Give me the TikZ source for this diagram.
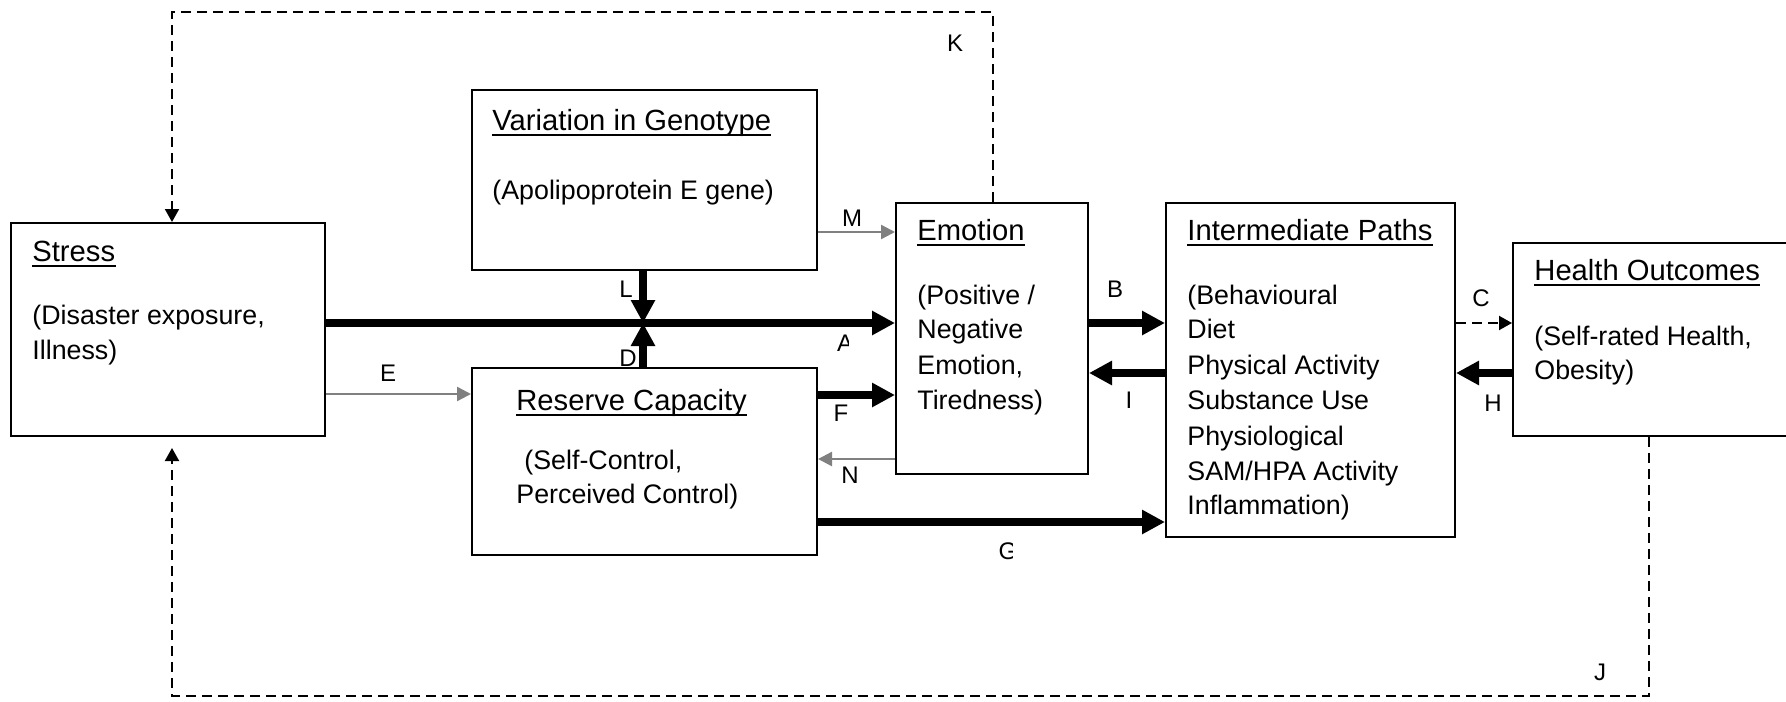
\documentclass[tikz,border=0pt]{standalone}
\usepackage{fontspec}
\setmainfont{Liberation Sans}
\usetikzlibrary{arrows.meta,fit}
\definecolor{arrgray}{RGB}{128,128,128}
\begin{document}
\begin{tikzpicture}[x=0.5pt,y=-0.5pt,
  box/.style={draw=black, line width=1pt, inner sep=0pt, fill=white},
  txt/.style={anchor=base west, inner sep=0pt, font=\fontsize{14.6}{17.5}\selectfont},
  txtc/.style={anchor=base west, inner sep=0pt, font=\fontsize{13.4}{17.5}\selectfont},
  lbl/.style={inner sep=0pt, font=\fontsize{12}{14}\selectfont},
  thickarr/.style={draw=black, line width=4pt, -{Triangle[length=11.5pt,width=11.5pt]}},
  grayarr/.style={draw=arrgray, line width=1.2pt, -{Triangle[length=7pt,width=7pt]}},
  dasharr/.style={draw=black, line width=1pt, dash pattern=on 5pt off 3pt, -{Triangle[length=6.5pt,width=7pt]}},
  ulinestyle/.style={draw=black, line width=1pt}
]
\useasboundingbox (0,0) rectangle (1786,701);
\clip (0,0) rectangle (1786,701);
% box corners
\coordinate (s1) at (11,223);   \coordinate (s2) at (325,436);
\coordinate (g1) at (472,90);   \coordinate (g2) at (817,270);
\coordinate (r1) at (472,368);  \coordinate (r2) at (817,555);
\coordinate (e1) at (896,203);  \coordinate (e2) at (1088,474);
\coordinate (i1) at (1166,203); \coordinate (i2) at (1455,537);
\coordinate (h1) at (1513,243); \coordinate (h2) at (1820,436);
\node[box, fit=(s1)(s2)] (stress) {};
\node[box, fit=(g1)(g2)] (genotype) {};
\node[box, fit=(r1)(r2)] (reserve) {};
\node[box, fit=(e1)(e2)] (emotion) {};
\node[box, fit=(i1)(i2)] (inter) {};
\node[box, fit=(h1)(h2)] (health) {};
% levels
\coordinate (yA) at (0,323);
\coordinate (yE) at (0,394);
\coordinate (yM) at (0,232);
\coordinate (yF) at (0,395);
\coordinate (yN) at (0,459);
\coordinate (yG) at (0,522);
\coordinate (yI) at (0,373);
\coordinate (LA) at (643,323);
\coordinate (Ktop) at (993,12);
\coordinate (Kleft) at (172,12);
\coordinate (Jbot) at (1649,696);
\coordinate (Jleft) at (172,696);
\coordinate (Jend) at (172,448);
% connectors
\draw[thickarr] (stress.east |- yA) -- (emotion.west |- yA);
\draw[thickarr] (genotype.south -| LA) -- (LA);
\draw[thickarr] (reserve.north -| LA) -- (LA);
\draw[grayarr] (stress.east |- yE) -- (reserve.west |- yE);
\draw[grayarr] (genotype.east |- yM) -- (emotion.west |- yM);
\draw[thickarr] (reserve.east |- yF) -- (emotion.west |- yF);
\draw[grayarr] (emotion.west |- yN) -- (reserve.east |- yN);
\draw[thickarr] (reserve.east |- yG) -- (inter.west |- yG);
\draw[thickarr] (emotion.east |- yA) -- (inter.west |- yA);
\draw[thickarr] (inter.west |- yI) -- (emotion.east |- yI);
\draw[dasharr] (inter.east |- yA) -- (health.west |- yA);
\draw[thickarr] (health.west |- yI) -- (inter.east |- yI);
\draw[dasharr] (emotion.north -| Ktop) -- (Ktop) -- (Kleft) -- (stress.north -| Kleft);
\draw[dasharr] (health.south -| Jbot) -- (Jbot) -- (Jleft) -- (Jend);
% texts
\node[txt] (tS1) at (32,261) {Stress};
\node[txtc] (tS2) at (32,324) {(Disaster exposure,};
\node[txtc] (tS3) at (32,359) {Illness)};
\node[txt] (tG1) at (492,130) {Variation in Genotype};
\node[txtc] (tG2) at (492,199) {(Apolipoprotein E gene)};
\node[txt] (tR1) at (516,410) {Reserve Capacity};
\node[txtc] (tR2) at (524,469) {(Self-Control,};
\node[txtc] (tR3) at (516,503) {Perceived Control)};
\node[txt] (tE1) at (917,240) {Emotion};
\node[txtc] (tE2) at (917,304) {(Positive /};
\node[txtc] (tE3) at (917,338.5) {Negative};
\node[txtc] (tE4) at (917,374) {Emotion,};
\node[txtc] (tE5) at (917,409) {Tiredness)};
\node[txt] (tI1) at (1187,240) {Intermediate Paths};
\node[txtc] (tI2) at (1187,304) {(Behavioural};
\node[txtc] (tI3) at (1187,338.5) {Diet};
\node[txtc] (tI4) at (1187,374) {Physical Activity};
\node[txtc] (tI5) at (1187,409) {Substance Use};
\node[txtc] (tI6) at (1187,445) {Physiological};
\node[txtc] (tI7) at (1187,480) {SAM/HPA Activity};
\node[txtc] (tI8) at (1187,514) {Inflammation)};
\node[txt] (tH1) at (1534,280) {Health Outcomes};
\node[txtc] (tH2) at (1534,345) {(Self-rated Health,};
\node[txtc] (tH3) at (1534,379) {Obesity)};
\foreach \n in {tS1,tG1,tR1,tE1,tI1,tH1}
  \draw[ulinestyle] ([yshift=-2.6pt]\n.base west) -- ([yshift=-2.6pt]\n.base east);
% labels
\node[lbl] (lK) at (955,43) {K};
\node[lbl] (lM) at (852,218) {M};
\node[lbl] (lL) at (626,289) {L};
\node[lbl] (lD) at (628,358) {D};
\node[lbl] (lE) at (388,373) {E};
\node[lbl] (lF) at (841,413) {F};
\node[lbl] (lN) at (850,475) {N};
\node[lbl] (lB) at (1115,289) {B};
\node[lbl] (lI) at (1129,400) {I};
\node[lbl] (lC) at (1481,298) {C};
\node[lbl] (lH) at (1493,403) {H};
\node[lbl] (lJ) at (1600,672) {J};
\begin{scope}
  \clip (820,325) rectangle (848,362);
  \node[lbl] (lA) at (845,343) {A};
\end{scope}
\begin{scope}
  \clip (985,535) rectangle (1012,570);
  \node[lbl] (lG) at (1008,551) {G};
\end{scope}
\end{tikzpicture}
\end{document}
